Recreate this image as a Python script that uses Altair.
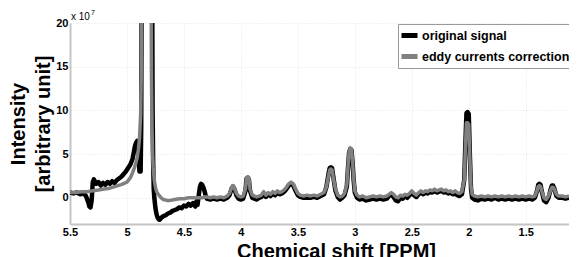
import altair as alt
import pandas as pd

# values in units of 1e7 (arbitrary)
tail_ppm = [4.30, 4.27, 4.24, 4.21, 4.18, 4.15, 4.12, 4.10, 4.08, 4.07, 4.06, 4.04, 4.02, 4.00,
            3.98, 3.96, 3.95, 3.94, 3.93, 3.92, 3.90, 3.88, 3.86, 3.84, 3.82, 3.80, 3.78, 3.76,
            3.74, 3.72, 3.70, 3.68, 3.66, 3.64, 3.62, 3.60, 3.58, 3.56, 3.54, 3.52, 3.50, 3.48,
            3.45, 3.42, 3.39, 3.36, 3.33, 3.30, 3.27, 3.25, 3.23, 3.22, 3.21, 3.20, 3.19, 3.17,
            3.15, 3.13, 3.11, 3.09, 3.07, 3.06, 3.05, 3.04, 3.03, 3.02, 3.01, 3.00, 2.98, 2.96,
            2.93, 2.90, 2.87, 2.84, 2.81, 2.78, 2.75, 2.72, 2.70, 2.68, 2.66, 2.64, 2.62, 2.60,
            2.58, 2.56, 2.54, 2.52, 2.50, 2.48, 2.46, 2.44, 2.42, 2.40, 2.38, 2.36, 2.34, 2.32,
            2.30, 2.28, 2.26, 2.24, 2.22, 2.20, 2.18, 2.16, 2.14, 2.12, 2.10, 2.08, 2.06, 2.04,
            2.03, 2.02, 2.01, 2.00, 1.99, 1.98, 1.97, 1.95, 1.92, 1.89, 1.86, 1.83, 1.80, 1.77,
            1.74, 1.71, 1.68, 1.65, 1.62, 1.59, 1.56, 1.53, 1.50, 1.47, 1.44, 1.42, 1.40, 1.39,
            1.38, 1.37, 1.36, 1.34, 1.32, 1.30, 1.28, 1.27, 1.26, 1.25, 1.23, 1.21, 1.18, 1.15,
            1.12]

corr_tail = [0.1, 0.0, 0.1, 0.0, 0.1, 0.0, 0.2, 0.5, 1.2, 1.4, 1.2, 0.5, 0.2, 0.1,
             0.2, 1.0, 2.3, 2.4, 2.3, 1.0, 0.3, 0.2, 0.1, 0.2, 0.3, 0.7, 0.3, 0.6,
             0.4, 0.7, 0.5, 0.8, 0.6, 0.7, 0.9, 1.2, 1.6, 1.8, 1.6, 1.0, 0.5, 0.3,
             0.2, 0.3, 0.2, 0.3, 0.2, 0.4, 0.6, 1.2, 2.6, 3.2, 3.3, 3.2, 2.4, 1.0,
             0.3, 0.1, 0.2, 0.5, 1.5, 3.5, 5.3, 5.7, 5.6, 4.2, 2.2, 0.8, 0.3, 0.1,
             0.2, 0.0, 0.1, 0.2, 0.1, 0.2, 0.1, 0.2, 0.4, 0.6, 0.4, 0.1, 0.0, 0.3,
             0.2, 0.4, 0.3, 0.5, 0.8, 0.5, 0.3, 0.6, 0.8, 0.6, 0.8, 0.7, 0.9, 0.8,
             1.0, 0.8, 0.9, 1.0, 0.8, 0.9, 0.7, 0.8, 0.6, 0.8, 0.6, 0.5, 0.7, 2.0,
             5.5, 8.6, 8.6, 8.4, 4.5, 1.2, 0.4, 0.2, 0.1, 0.2, 0.1, 0.2, 0.1, 0.2,
             0.1, 0.2, 0.1, 0.2, 0.1, 0.2, 0.1, 0.2, 0.1, 0.2, 0.1, 0.2, 0.8, 1.3,
             1.4, 1.3, 0.8, 0.0, -0.2, 0.2, 0.9, 1.2, 1.2, 1.0, 0.4, 0.2, 0.2, 0.1,
             0.2]

orig_tail = [-0.1, -0.2, -0.1, -0.2, -0.1, -0.2, 0.0, 0.3, 1.1, 1.3, 1.1, 0.3, -0.1, -0.2,
             -0.1, 0.8, 2.2, 2.3, 2.1, 0.8, 0.0, -0.1, -0.2, 0.0, 0.1, 0.5, 0.1, 0.4,
             0.2, 0.5, 0.3, 0.6, 0.4, 0.5, 0.7, 1.0, 1.4, 1.6, 1.4, 0.8, 0.3, 0.1,
             0.0, 0.0, 0.0, 0.1, 0.0, 0.2, 0.4, 1.2, 2.8, 3.4, 3.5, 3.4, 2.5, 0.8,
             0.1, -0.2, 0.0, 0.3, 1.3, 3.4, 5.2, 5.6, 5.5, 4.1, 2.0, 0.6, 0.0, -0.2,
             -0.1, -0.3, -0.2, -0.1, -0.2, -0.1, -0.2, -0.1, 0.2, 0.4, 0.1, -0.3, -0.4, 0.0,
             -0.1, 0.2, 0.0, 0.3, 0.6, 0.3, 0.1, 0.4, 0.6, 0.4, 0.6, 0.5, 0.7, 0.6,
             0.8, 0.6, 0.7, 0.8, 0.6, 0.7, 0.5, 0.6, 0.4, 0.5, 0.3, 0.2, 0.4, 2.0,
             6.0, 9.7, 9.8, 9.6, 4.8, 1.0, 0.0, -0.2, -0.3, -0.1, -0.2, -0.1, -0.2, 0.0,
             -0.2, -0.1, -0.2, -0.1, -0.2, -0.1, -0.2, -0.1, -0.2, -0.1, -0.2, 0.0, 0.8, 1.5,
             1.6, 1.5, 0.8, -0.3, -0.5, 0.0, 1.0, 1.4, 1.4, 1.1, 0.2, 0.0, 0.0, -0.1,
             0.0]

orig_head_ppm = [5.50, 5.47, 5.44, 5.41, 5.38, 5.36, 5.34, 5.33, 5.32, 5.31, 5.30, 5.29, 5.27,
                 5.25, 5.23, 5.21, 5.19, 5.17, 5.15, 5.13, 5.11, 5.09, 5.07, 5.05, 5.03, 5.01,
                 4.99, 4.97, 4.95, 4.94, 4.93, 4.92, 4.91, 4.90, 4.895, 4.89, 4.88, 4.875, 4.87,
                 4.78, 4.775, 4.77, 4.765, 4.76, 4.75, 4.74, 4.73, 4.72, 4.71, 4.70, 4.68, 4.66,
                 4.64, 4.62, 4.60, 4.58, 4.56, 4.54, 4.52, 4.50, 4.48, 4.46, 4.44, 4.42, 4.40,
                 4.39, 4.38, 4.37, 4.36, 4.35, 4.34, 4.33, 4.32, 4.31]
orig_head_val = [0.6, 0.5, 0.6, 0.4, 0.5, 0.2, -0.5, -1.0, -1.1, -0.3, 1.8, 2.1, 1.6,
                 1.8, 1.4, 1.7, 1.5, 1.8, 1.6, 1.9, 1.7, 2.0, 2.2, 2.4, 2.7, 3.0,
                 3.4, 3.8, 4.5, 5.2, 5.9, 6.3, 6.5, 6.0, 4.0, 3.0, 3.0, 8.0, 30.0,
                 30.0, 10.0, 4.0, 1.0, 0.0, -1.2, -1.9, -2.3, -2.5, -2.5, -2.3, -2.1, -2.0,
                 -1.8, -1.7, -1.5, -1.4, -1.3, -1.1, -1.2, -0.9, -1.0, -0.7, -0.9, -0.6, -1.0,
                 -0.4, -0.8, 0.3, 1.2, 1.6, 1.5, 1.2, 0.8, 0.3]

corr_head_ppm = [5.50, 5.45, 5.40, 5.35, 5.30, 5.25, 5.20, 5.15, 5.10, 5.05, 5.00, 4.97,
                 4.95, 4.93, 4.91, 4.90, 4.89, 4.88, 4.875, 4.87, 4.79, 4.785, 4.78, 4.775,
                 4.77, 4.76, 4.75, 4.74, 4.72, 4.70, 4.68, 4.65, 4.62, 4.58, 4.54, 4.50,
                 4.46, 4.42, 4.38, 4.34, 4.32]
corr_head_val = [0.6, 0.6, 0.7, 0.7, 0.8, 0.9, 1.0, 1.1, 1.3, 1.5, 1.8, 2.3,
                 2.9, 3.6, 4.6, 5.5, 6.8, 9.5, 14.0, 30.0, 30.0, 14.0, 8.0, 5.0,
                 3.5, 2.0, 1.2, 0.7, 0.3, 0.0, -0.2, -0.3, -0.3, -0.2, -0.1, -0.1,
                 0.0, 0.0, 0.0, 0.0, 0.1]

x_ticks = [5.5, 5.0, 4.5, 4.0, 3.5, 3.0, 2.5, 2.0, 1.5]
y_ticks = [0, 5, 10, 15, 20]
series_names = ["original signal", "eddy currents correction"]
series_colors = ["#000000", "#808080"]

o_ppm = orig_head_ppm + tail_ppm
c_ppm = corr_head_ppm + tail_ppm
df_orig = pd.DataFrame({"ppm": o_ppm, "val": orig_head_val + orig_tail,
                        "series": [series_names[0]] * len(o_ppm)})
df_corr = pd.DataFrame({"ppm": c_ppm, "val": corr_head_val + corr_tail,
                        "series": [series_names[1]] * len(c_ppm)})

FONT = "Liberation Sans"

xenc = alt.X("ppm:Q",
             scale=alt.Scale(domain=[1.12, 5.5], reverse=True, nice=False, zero=False),
             axis=alt.Axis(values=x_ticks, labelExpr="'' + datum.value", labelFlush=False,
                           title="Chemical shift [PPM]", titlePadding=4, titleX=266))
yenc = alt.Y("val:Q",
             scale=alt.Scale(domain=[-3, 20], nice=False, zero=False),
             axis=alt.Axis(values=y_ticks, title=["Intensity", "[arbitrary unit]"],
                           titleLineHeight=25, titlePadding=2))

color_scale = alt.Scale(domain=series_names, range=series_colors)
legend = alt.Legend(orient="none", legendX=328, legendY=1, title=None,
                    labelFont=FONT, labelFontWeight="bold", labelFontSize=12.5,
                    labelColor="black", labelLimit=400, labelOffset=2,
                    symbolType="stroke", symbolStrokeWidth=5, symbolSize=256,
                    strokeColor="#999999", fillColor="white", padding=1, rowPadding=-4)

cenc = alt.Color("series:N", scale=color_scale, legend=legend)

orig = alt.Chart(df_orig).mark_line(clip=True, strokeWidth=4.5, strokeJoin="round").encode(
    x=xenc, y=yenc, color=cenc)
corr = alt.Chart(df_corr).mark_line(clip=True, strokeWidth=3.5, strokeJoin="round").encode(
    x=xenc, y=yenc, color=cenc)

mult = alt.Chart(pd.DataFrame({"t": ["x 10"]})).mark_text(
    font=FONT, fontSize=10, align="left", baseline="bottom", color="black").encode(
    x=alt.value(1), y=alt.value(-1), text="t:N")
exp_ = alt.Chart(pd.DataFrame({"t": ["7"]})).mark_text(
    font=FONT, fontSize=7, align="left", baseline="bottom", color="black").encode(
    x=alt.value(21), y=alt.value(-7), text="t:N")

chart = alt.layer(orig, corr, mult, exp_).properties(
    width=499, height=201,
    padding={"left": 62, "top": 15, "right": 0, "bottom": 33},
    autosize=alt.AutoSizeParams(type="none"),
).configure_view(strokeWidth=0).configure_axis(
    labelFont=FONT, labelFontWeight="bold", labelFontSize=11, labelColor="black",
    titleFont=FONT, titleFontWeight="bold", titleFontSize=20, titleColor="black",
    gridColor="#e4e4e4", gridDash=[1, 2], gridWidth=1,
    domainColor="#c4c4c4", domainWidth=2, tickSize=0, labelPadding=2,
)

chart.save("out.html", embed_options={"renderer": "svg", "actions": False})
